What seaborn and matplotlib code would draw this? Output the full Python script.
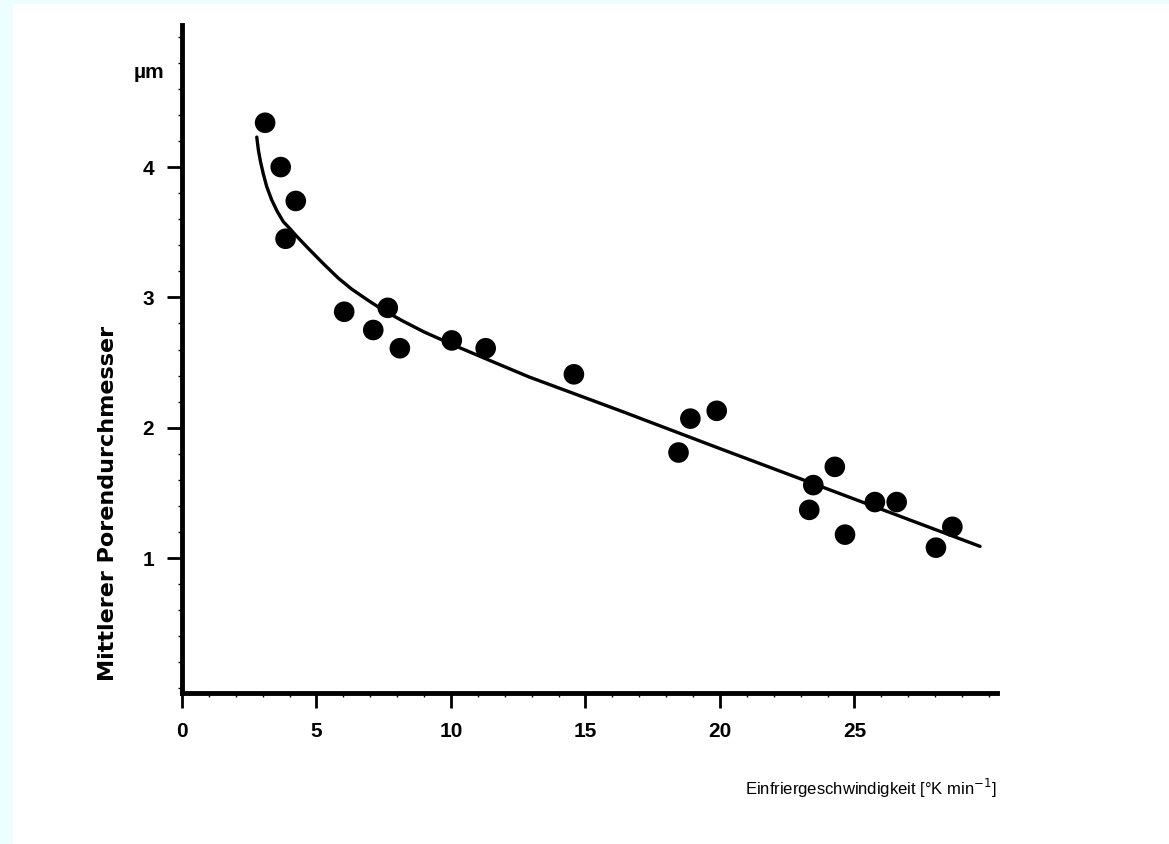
import matplotlib
matplotlib.use("Agg")
import pandas as pd
import matplotlib.pyplot as plt
import seaborn as sns
from matplotlib.patches import Rectangle
from matplotlib.ticker import MultipleLocator

rate = [3.09, 3.67, 4.23, 3.85, 6.03, 7.65, 7.11, 8.10, 10.03, 11.29,
        14.57, 18.90, 19.88, 18.46, 23.47, 23.32, 24.27, 24.65, 25.76,
        26.57, 28.64, 28.03]
pore = [4.34, 4.00, 3.74, 3.45, 2.89, 2.92, 2.75, 2.61, 2.67, 2.61,
        2.41, 2.07, 2.13, 1.81, 1.56, 1.37, 1.70, 1.18, 1.43,
        1.43, 1.24, 1.08]

# hand-drawn fit curve, traced
fit_x = [2.78, 2.84, 2.92, 3.02, 3.15, 3.33, 3.54, 3.77, 4.00, 4.26, 4.70,
         5.25, 5.80, 6.30, 6.90, 7.50, 8.20, 9.00, 10.20, 11.40, 12.90,
         16.30, 20.00, 23.10, 29.67]
fit_y = [4.23, 4.13, 4.04, 3.95, 3.85, 3.75, 3.66, 3.58, 3.53, 3.47, 3.375,
         3.26, 3.15, 3.065, 2.98, 2.90, 2.82, 2.735, 2.625, 2.52, 2.39,
         2.13, 1.84, 1.60, 1.09]

x_ticks = [0, 5, 10, 15, 20, 25]
y_ticks = [1, 2, 3, 4]

pts = pd.DataFrame({"rate": rate, "pore": pore})
fit = pd.DataFrame({"x": fit_x, "y": fit_y})

sns.set_theme(style="ticks")
plt.rcParams["font.family"] = ["Liberation Sans", "DejaVu Sans"]
plt.rcParams["text.color"] = "black"
plt.rcParams["xtick.labelcolor"] = "black"
plt.rcParams["ytick.labelcolor"] = "black"

W, H = 1169, 844
fig = plt.figure(figsize=(W / 100, H / 100), dpi=100)
fig.patch.set_facecolor("#ECFEFE")
fig.patches.append(Rectangle((13 / W, 0), 1, 1 - 4 / H, transform=fig.transFigure,
                             facecolor="white", edgecolor="none", zorder=-1))

ax = fig.add_axes([182 / W, 1 - 693 / H, (997 - 182) / W, (693 - 25) / H])
ax.set_facecolor("none")

sns.lineplot(data=fit, x="x", y="y", color="black", lw=2.4, sort=False, ax=ax)
sns.scatterplot(data=pts, x="rate", y="pore", color="black", s=220,
                edgecolor="none", zorder=3, ax=ax)

ax.set_xlim(0, 30.3)
ax.set_ylim(-0.035, 5.09)
ax.set_xticks(x_ticks)
ax.set_yticks(y_ticks)
ax.xaxis.set_minor_locator(MultipleLocator(1))
ax.yaxis.set_minor_locator(MultipleLocator(0.2))
ax.tick_params(axis="both", which="major", length=11, width=2, color="black",
               labelsize=15, labelcolor="black", direction="out")
ax.tick_params(axis="x", which="major", pad=10)
ax.tick_params(axis="y", which="major", pad=9)
ax.tick_params(axis="both", which="minor", length=3, width=1, color="black")
for lab in ax.get_xticklabels() + ax.get_yticklabels():
    lab.set_fontweight("bold")

for side in ("top", "right"):
    ax.spines[side].set_visible(False)
for side in ("left", "bottom"):
    ax.spines[side].set_linewidth(3.5)
    ax.spines[side].set_color("black")

ax.set_xlabel("")
ax.set_ylabel("")

fig.text(997 / W, 1 - 788 / H, "Einfriergeschwindigkeit [°K min$^{-1}$]",
         ha="right", va="center", fontsize=12)
fig.text(108 / W, 1 - 503 / H, "Mittlerer Porendurchmesser", rotation=90,
         ha="center", va="center", fontsize=16, fontweight="bold",
         family=["DejaVu Sans"])
fig.text(149 / W, 1 - 73 / H, "µm", ha="center", va="center",
         fontsize=15, fontweight="bold")

fig.savefig("out.png", dpi=100, facecolor=fig.get_facecolor())
